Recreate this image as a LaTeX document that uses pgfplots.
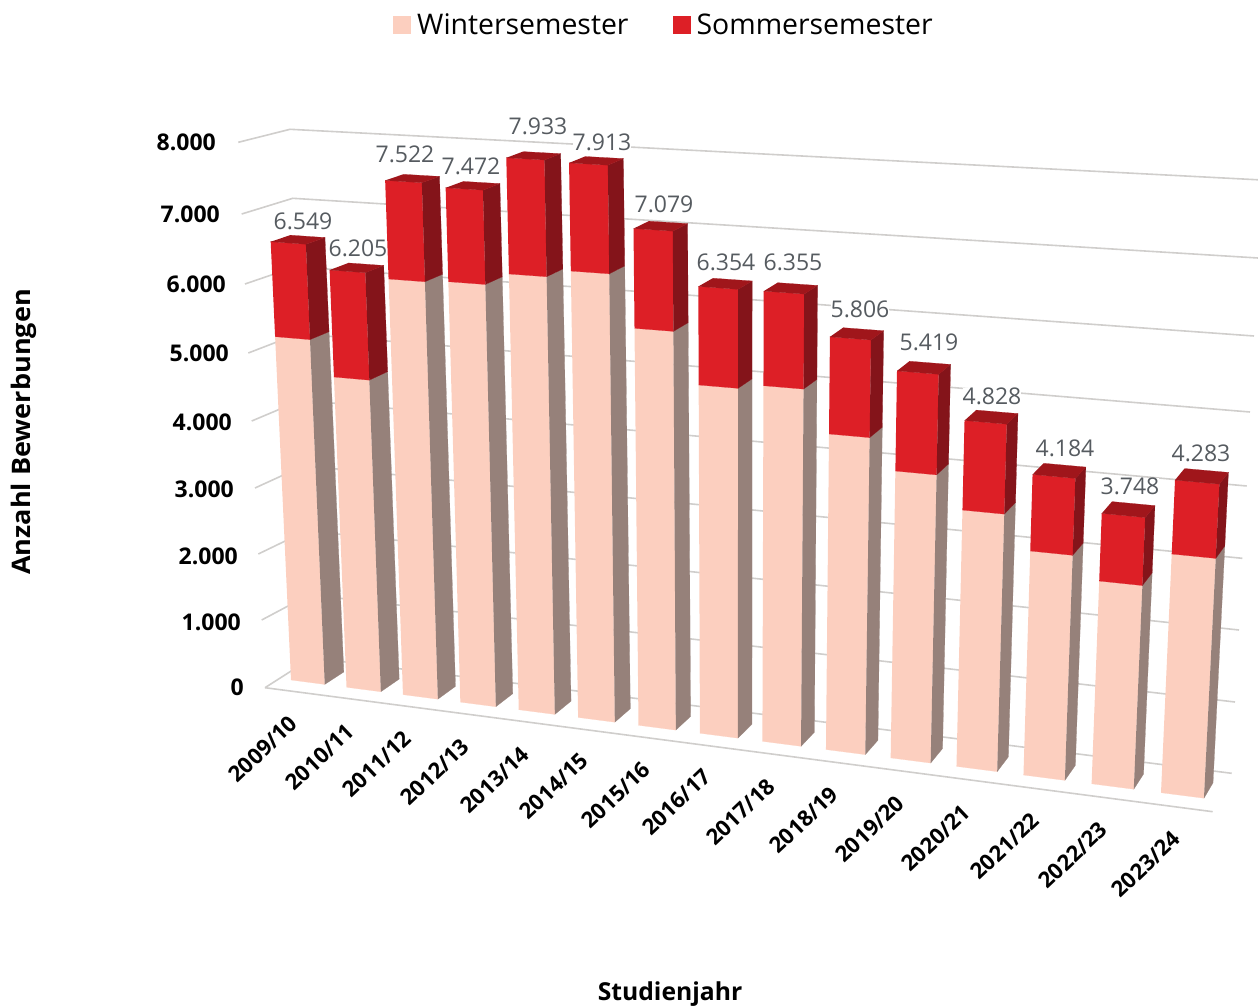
\documentclass[border=0pt]{standalone}
\usepackage{fontspec}
\setmainfont{Open Sans}
\usepackage{pgfplots}
\pgfplotsset{compat=1.18}
\definecolor{wfront}{HTML}{FCCFBF}
\definecolor{wside}{HTML}{96817A}
\definecolor{sfront}{HTML}{DD1F26}
\definecolor{sside}{HTML}{84141A}
\definecolor{stop}{HTML}{A0161B}
\definecolor{gridc}{HTML}{D0CECC}
\definecolor{lab}{HTML}{565B60}
\pgfplotsset{
  /pgf/declare function={
    WW(\uu,\zz)=1-0.1049*\uu/14-0.0533*\zz/8000;
    FX(\uu,\zz,\dd)=(291+748.2*\uu/14-39.23*\zz/8000)/WW(\uu,\zz)-8*\uu/14*(1-\uu/14)+\dd*(19.5-10*\uu/14);
    FY(\uu,\zz,\dd)=(680+29.55*\uu/14-548.28*\zz/8000)/WW(\uu,\zz)-\dd*(12.3+3*\uu/14-7*\zz/8000);
  }
}
% one face of a bar: rows are  bar-index  side(0 left,1 right)  value  depth(0 front,1 back)
\newcommand\Face[2]{\addplot[forget plot,fill=#1,draw=#1,line width=0.2pt]
  table[row sep=\\,
    x expr={FX(\thisrow{i}+0.61*\thisrow{s},\thisrow{v},\thisrow{d})},
    y expr={FY(\thisrow{i}+0.61*\thisrow{s},\thisrow{v},\thisrow{d})}]
  {i s v d\\ #2};}
\newcommand\Bar[3]{%
  \Face{wfront}{#1 0 0 0\\ #1 1 0 0\\ #1 1 #2 0\\ #1 0 #2 0\\}
  \Face{wside}{#1 1 0 0\\ #1 1 0 1\\ #1 1 #2 1\\ #1 1 #2 0\\}
  \Face{sfront}{#1 0 #2 0\\ #1 1 #2 0\\ #1 1 #3 0\\ #1 0 #3 0\\}
  \Face{sside}{#1 1 #2 0\\ #1 1 #2 1\\ #1 1 #3 1\\ #1 1 #3 0\\}
  \Face{stop}{#1 0 #3 0\\ #1 1 #3 0\\ #1 1 #3 1\\ #1 0 #3 1\\}
}
\newcommand\Grid[6]{\addplot[forget plot,gridc,line width=1.6pt] coordinates {(#1,#2)(#3,#4)(#5,#6)};}
\newcommand\YT[3]{\node[anchor=east,font=\fontsize{23}{23}\selectfont\bfseries,inner sep=0pt] at (axis cs:#1,#2) {#3};}
\newcommand\XT[3]{\node[rotate=43.5,font=\fontsize{22}{22}\selectfont\bfseries,inner sep=0pt] at (axis cs:#1,#2) {#3};}
\newcommand\VL[3]{\node[font=\fontsize{23}{23}\selectfont,text=lab,fill=white,inner sep=0pt] at (axis cs:#1,#2) {#3};}
\begin{document}
\begin{tikzpicture}
\useasboundingbox (0,0) rectangle (1258pt,1008pt);
\begin{axis}[
  at={(0,0)},anchor=south west,
  scale only axis,width=1258pt,height=1008pt,
  xmin=0,xmax=1258,ymin=0,ymax=1008,y dir=reverse,
  hide axis,clip=true,
  legend columns=2,
  legend style={draw=none,fill=none,at={(axis cs:393,25)},anchor=west,
    font=\fontsize{28.4}{30}\selectfont,inner sep=0pt,
    /tikz/every even column/.append style={column sep=42pt}},
  legend image code/.code={\fill[#1,draw=none] (0pt,-9pt) rectangle (18pt,9pt);\path[draw=none,fill=none] (0pt,0pt) -- (22pt,0pt);},
]
\addlegendimage{fill=wfront}\addlegendentry{Wintersemester}
\addlegendimage{fill=sfront}\addlegendentry{Sommersemester}
% gridlines (left wall, back wall)
\Grid{265}{687.7}{312}{657.7}{1231.7}{773.3}
\Grid{261.7}{620}{309.3}{594.7}{1235}{702}
\Grid{258.3}{554}{306.5}{530.7}{1239}{630}
\Grid{255}{488}{303.8}{465.7}{1242.3}{558.3}
\Grid{251.7}{421}{301}{400.2}{1246.7}{486}
\Grid{248.3}{353}{298.3}{333.7}{1250}{412}
\Grid{245}{284}{295.5}{266.7}{1254}{336}
\Grid{241.7}{214}{292.8}{198.3}{1258}{258}
\Grid{238.3}{142.3}{290}{129.3}{1262}{180}
\addplot[forget plot,gridc,line width=1.6pt] coordinates {(265,687.7)(1212.7,811.7)};
% value labels (drawn before the bars)
\VL{303}{221}{6.549}
\VL{358}{248}{6.205}
\VL{405}{154}{7.522}
\VL{471}{166}{7.472}
\VL{538}{126}{7.933}
\VL{602}{142}{7.913}
\VL{664}{204}{7.079}
\VL{726}{262}{6.354}
\VL{793}{262}{6.355}
\VL{860}{309}{5.806}
\VL{929}{342}{5.419}
\VL{992}{396}{4.828}
\VL{1065}{448}{4.184}
\VL{1130}{486}{3.748}
\VL{1201}{453}{4.283}
% bars: index, Wintersemester, total
\Bar{0}{5179}{6549}
\Bar{1}{4664}{6205}
\Bar{2}{6140}{7522}
\Bar{3}{6165}{7472}
\Bar{4}{6336}{7933}
\Bar{5}{6439}{7913}
\Bar{6}{5714}{7079}
\Bar{7}{5002}{6354}
\Bar{8}{5068}{6355}
\Bar{9}{4483}{5806}
\Bar{10}{4058}{5419}
\Bar{11}{3611}{4828}
\Bar{12}{3143}{4184}
\Bar{13}{2830}{3748}
\Bar{14}{3295}{4283}
% value axis labels
\YT{216}{142}{8.000}
\YT{220}{214}{7.000}
\YT{226}{284}{6.000}
\YT{229}{353}{5.000}
\YT{232}{422}{4.000}
\YT{234}{489}{3.000}
\YT{238}{556}{2.000}
\YT{241}{622}{1.000}
\YT{244}{687}{0}
% category labels
\XT{263}{749}{2009/10}
\XT{320}{757}{2010/11}
\XT{377}{764}{2011/12}
\XT{435}{772}{2012/13}
\XT{495}{780}{2013/14}
\XT{554}{786}{2014/15}
\XT{616}{795}{2015/16}
\XT{676.5}{802}{2016/17}
\XT{740.5}{812}{2017/18}
\XT{804}{820}{2018/19}
\XT{870}{829}{2019/20}
\XT{936}{838}{2020/21}
\XT{1005}{846}{2021/22}
\XT{1073}{855}{2022/23}
\XT{1146}{864}{2023/24}
% axis titles
\node[rotate=90,xscale=1.06,font=\fontsize{25.5}{25.5}\selectfont\bfseries,inner sep=0pt] at (axis cs:24,432) {Anzahl Bewerbungen};
\node[font=\fontsize{24.7}{24.7}\selectfont\bfseries,inner sep=0pt] at (axis cs:670,994) {Studienjahr};
\end{axis}
\end{tikzpicture}
\end{document}
